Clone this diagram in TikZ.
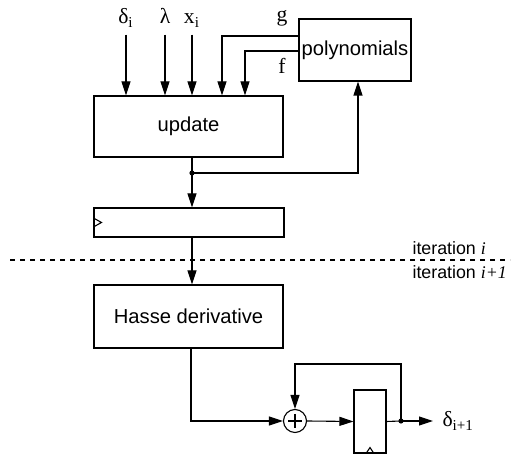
\documentclass[tikz,border=0pt]{standalone}
\usepackage{fontspec}
\setmainfont{Liberation Sans}
\newfontfamily\serif{Liberation Serif}
\usepackage{tikz}
\usetikzlibrary{arrows.meta,positioning,calc}

\begin{document}
\begin{tikzpicture}[x=0.5pt,y=-0.5pt,line width=0.55pt,
    font=\fontsize{10.1}{12}\selectfont,
    blk/.style={draw,inner sep=0pt},
    arr/.style={-{Triangle[length=7pt,width=4.5pt]}},
    inlab/.style={font=\fontsize{10.8}{12}\selectfont\serif,anchor=base,inner sep=3pt,text depth=2pt},
    itlab/.style={font=\fontsize{8.9}{10}\selectfont,anchor=base west,inner sep=0pt},
    dot/.style={circle,fill,inner sep=0pt,minimum size=2.6pt}]
  \useasboundingbox (0,0) rectangle (515,458);

  \node[blk, minimum width=94.5pt, minimum height=30.5pt] (upd) at (188.5,126.5) {update};
  \node[blk, minimum width=56pt, minimum height=31pt] (poly) at (355,50) {polynomials};
  \node[blk, minimum width=95pt, minimum height=14.5pt] (reg) at (189,222.5) {};
  \node[blk, minimum width=94.5pt, minimum height=31.5pt] (hasse) at (188.5,316.5) {Hasse derivative};
  \node[draw, circle, inner sep=0pt, minimum size=11.5pt] (add) at (295,421) {};
  \node[blk, minimum width=16pt, minimum height=31.5pt] (reg2) at (370,421.5) {};

  % inputs
  \node[inlab] (di) at (126,24) {δ\textsubscript{i}};
  \node[inlab] (lam) at (165,24) {λ};
  \node[inlab] (xi) at (192,24) {x\textsubscript{i}};
  \node[inlab] (g) at (282,22) {g};
  \node[inlab] (f) at (282,74) {f};
  \foreach \n in {di,lam,xi}
    \draw[arr] (\n.south) -- (\n.south |- upd.north);
  \draw[arr] ($(poly.west)+(0,-14)$) -| ($(upd.north)+(33.5,0)$);
  \draw[arr] ($(poly.west)+(0,1)$) -| ($(upd.north)+(56.5,0)$);

  % update -> register, feedback to polynomials
  \coordinate (j1) at (192,173);
  \draw ([xshift=1.75pt]upd.south) -- (j1);
  \draw[arr] (j1) -- ([xshift=1.5pt]reg.north);
  \draw[arr] (j1) -| ($(poly.south)+(3,0)$);
  \node[dot] at (j1) {};

  % clock marks and adder sign
  \draw ($(reg.west)+(0,-4.5)$) -- ++(8,4.5) -- ++(-8,4.5);
  \draw ($(reg2.south)+(-4,0)$) -- ++(4,-6) -- ++(4,6);
  \draw ($(add.center)+(-7,0)$) -- ++(14,0) ($(add.center)+(0,-7)$) -- ++(0,14);

  % iteration boundary
  \draw[dash pattern=on 2.5pt off 2.5pt] (10,260) -- (510,260);
  \node[itlab] (it1) at (412,255) {iteration {\serif\itshape i}};
  \node[itlab] (it2) at (412,279) {iteration {\serif\itshape i+1}};

  \draw[arr] ([xshift=1.5pt]reg.south) -- ([xshift=1.75pt]hasse.north);
  \draw[arr] ([xshift=1.25pt]hasse.south) |- (add.west);
  \draw[arr] (add.east) -- (reg2.west);

  % output and accumulator loop
  \node[font=\fontsize{10.8}{12}\selectfont\serif,anchor=base west,inner sep=0pt] (out) at (442,427) {δ\textsubscript{i+1}};
  \coordinate (j2) at (401,421);
  \draw (reg2.east) -- (j2);
  \draw[arr,shorten >=4.5pt] (j2) -- (j2 -| out.west);
  \draw[arr] (j2) -- (401,364) -| (add.north);
  \node[dot] at (j2) {};
\end{tikzpicture}
\end{document}
